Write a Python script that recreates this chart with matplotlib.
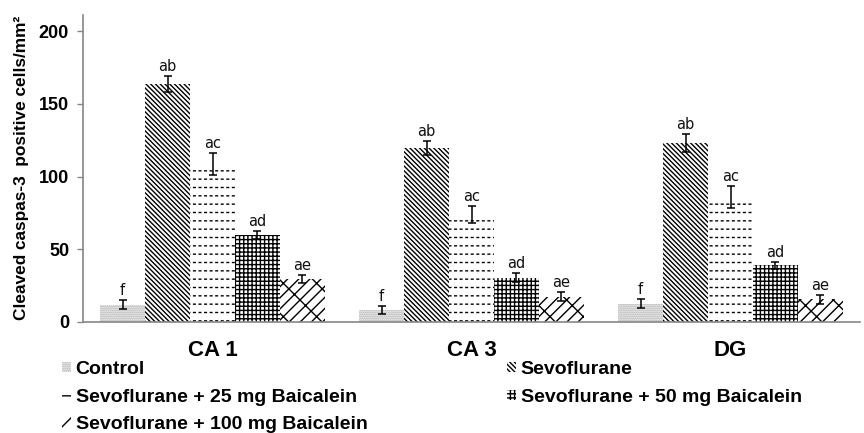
import numpy as np
import matplotlib
matplotlib.use("Agg")
import matplotlib.pyplot as plt

# data
regions = ["CA 1", "CA 3", "DG"]
groups = ["Control", "Sevoflurane", "Sevoflurane + 25 mg Baicalein",
          "Sevoflurane + 50 mg Baicalein", "Sevoflurane + 100 mg Baicalein"]
# one row per group, one column per region
means = [[12, 8, 12.5],
         [163.5, 119.5, 123],
         [108.5, 74, 86],
         [60, 30.5, 39],
         [29.5, 17.5, 15.5]]
errors = [[3, 2.7, 3],
          [5.7, 5, 6],
          [7.5, 6, 7.5],
          [2.7, 3, 2.5],
          [2.5, 3, 3]]
letters = ["f", "ab", "ac", "ad", "ae"]
yticks = [0, 50, 100, 150, 200]

# look of each group (Excel-like pattern fills)
hatches = ["........", "\\" * 7, "--", "++++", "///\\"]
hatch_colors = ["#a0a0a0", "black", "black", "black", "black"]
axis_grey = "#868686"
sans = "Liberation Sans"

fig = plt.figure(figsize=(8.64, 4.33), dpi=100)
ax = fig.add_axes([83 / 864, 1 - 322 / 433, 777 / 864, 307 / 433])

x = np.arange(len(regions))
width = 0.1737
bars = []
for i, name in enumerate(groups):
    pos = x + (i - 2) * width
    b = ax.bar(pos, means[i], width, color="white", edgecolor=hatch_colors[i],
               linewidth=0, hatch=hatches[i], label=name, zorder=2)
    bars.append(b)
    if i == 2:
        # white vertical strokes break the horizontal lines into dashes
        with plt.rc_context({"hatch.linewidth": 1.8}):
            ax.bar(pos, means[i], width, color="none", edgecolor="white",
                   linewidth=0, hatch="|||", zorder=2.5)
    ax.errorbar(pos, means[i], yerr=errors[i], fmt="none", ecolor="black",
                elinewidth=1.1, capsize=3, capthick=1.1, zorder=3)
    for xp, m, e in zip(pos, means[i], errors[i]):
        ax.annotate(letters[i], (xp, m + e), xytext=(0, 1.5),
                    textcoords="offset points", ha="center", va="bottom",
                    fontsize=10.5, family="DejaVu Sans", color="#111111")

ax.set_xlim(-0.5, len(regions) - 0.5)
ax.set_ylim(0, 211)
ax.set_yticks(yticks)
ax.set_yticklabels([str(t) for t in yticks], fontsize=13, fontweight="bold",
                   family=sans)
ax.set_xticks(x)
ax.set_xticklabels(regions, fontsize=16, fontweight="bold", family=sans)
ax.tick_params(axis="x", length=0, pad=13)
ax.tick_params(axis="y", length=4, width=1, color=axis_grey, pad=6)
for s in ["top", "right"]:
    ax.spines[s].set_visible(False)
for s in ["left", "bottom"]:
    ax.spines[s].set_color(axis_grey)
    ax.spines[s].set_linewidth(1.2)

fig.text(22 / 864, 1 - 168 / 433, "Cleaved caspas-3  positive cells/mm\u00b2",
         rotation=90, ha="center", va="center", fontsize=12.4,
         fontweight="bold", family=sans)

# legend laid out like Excel: two columns, filled row by row
leg_kw = dict(frameon=False, loc="upper left", handlelength=0.45,
              handleheight=0.45, handletextpad=0.25, labelspacing=0.55,
              borderpad=0, borderaxespad=0,
              prop={"family": sans, "weight": "bold", "size": 14})
left_idx = [0, 2, 4]
right_idx = [1, 3]
fig.legend([bars[k] for k in left_idx], [groups[k] for k in left_idx],
           bbox_to_anchor=(62 / 864, 1 - 361 / 433), **leg_kw)
fig.legend([bars[k] for k in right_idx], [groups[k] for k in right_idx],
           bbox_to_anchor=(507 / 864, 1 - 361 / 433), **leg_kw)

fig.savefig("out.png", dpi=100)
